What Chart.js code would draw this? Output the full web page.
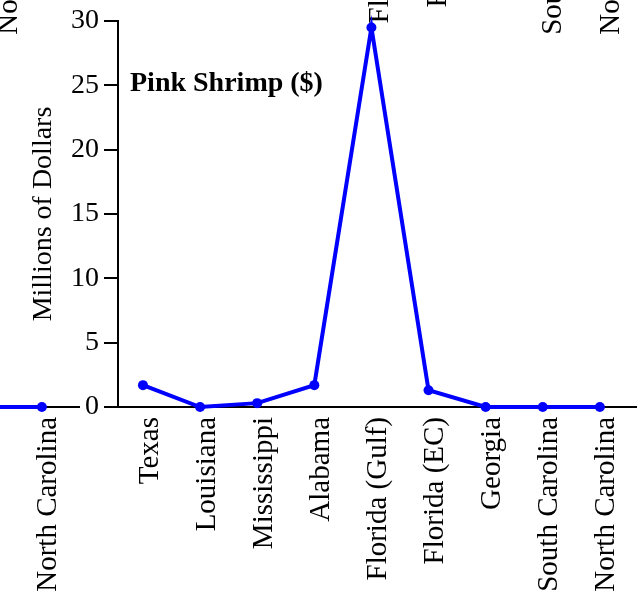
<!DOCTYPE html>
<html><head><meta charset="utf-8">
<script src="https://cdn.jsdelivr.net/npm/chart.js@4"></script>
<style>
html,body{margin:0;padding:0;background:#fff;}
#wrap{position:relative;width:637px;height:592px;overflow:hidden;background:#fff;}
#wrap canvas{position:absolute;}
</style></head><body>
<div id="wrap">
<canvas id="topLeftPanel" width="642" height="592" style="left:-602px;top:-557px"></canvas>
<canvas id="topPanel" width="642" height="592" style="left:0px;top:-557px"></canvas>
<canvas id="leftPanel" width="642" height="592" style="left:-558px;top:0px"></canvas>
<canvas id="mainPanel" width="642" height="592" style="left:0px;top:0px"></canvas>
</div>
<script>
const categories = ['Texas','Louisiana','Mississippi','Alabama','Florida (Gulf)','Florida (EC)','Georgia','South Carolina','North Carolina'];
const pinkShrimpValues = [1.7, 0, 0.3, 1.7, 29.5, 1.3, 0, 0, 0];
// neighbouring panel to the left: only its last two points are visible in the crop
const leftPanelValues = [null, null, null, null, null, null, null, 0, 0];
const yTicks = [0, 5, 10, 15, 20, 25, 30];
const panelTitle = 'Pink Shrimp ($)';
const yAxisTitle = 'Millions of Dollars';

const SERIF = "'Liberation Serif','Times New Roman',serif";
const BLUE = '#0000ff';

const panelTitlePlugin = {
  id: 'panelTitle',
  afterDraw(chart, args, opts) {
    if (!opts || !opts.text) return;
    const ctx = chart.ctx;
    ctx.save();
    ctx.font = 'bold 28px ' + SERIF;
    ctx.fillStyle = '#000';
    ctx.textBaseline = 'alphabetic';
    ctx.textAlign = 'left';
    ctx.fillText(opts.text, chart.chartArea.left + 12, 91);
    ctx.restore();
  }
};

function makePanel(id, values, title) {
  const datasets = values ? [{
    data: values.map((v, i) => ({x: i, y: v})),
    borderColor: BLUE,
    backgroundColor: BLUE,
    borderWidth: 4,
    pointRadius: 5,
    pointBackgroundColor: BLUE,
    pointBorderWidth: 0,
    tension: 0,
    spanGaps: false,
    clip: false
  }] : [];
  return new Chart(document.getElementById(id), {
    type: 'line',
    data: {datasets},
    plugins: [panelTitlePlugin],
    options: {
      responsive: false,
      animation: false,
      devicePixelRatio: 1,
      layout: {padding: {top: 21, left: 0, right: 0, bottom: 0}},
      plugins: {
        legend: {display: false},
        tooltip: {enabled: false},
        panelTitle: {text: title || ''}
      },
      scales: {
        x: {
          type: 'linear',
          min: -0.437,
          max: 8.65,
          afterBuildTicks: s => { s.ticks = categories.map((c, i) => ({value: i})); },
          afterFit: s => { s.height = 185; s.paddingLeft = 0; s.paddingRight = 0; },
          ticks: {
            autoSkip: false, minRotation: 90, maxRotation: 90,
            padding: 10, labelOffset: 7, color: '#000',
            font: {family: SERIF, size: 29},
            callback: v => categories[v]
          },
          grid: {drawOnChartArea: false, drawTicks: false},
          border: {display: true, color: '#000', width: 2}
        },
        y: {
          type: 'linear',
          min: 0,
          max: 30,
          afterBuildTicks: s => { s.ticks = yTicks.map(v => ({value: v})); },
          afterFit: s => { s.width = 118; s.paddingTop = 0; s.paddingBottom = 0; },
          ticks: {color: '#000', font: {family: SERIF, size: 28}, padding: 5},
          grid: {drawOnChartArea: false, drawTicks: true, tickLength: 14, color: '#000', lineWidth: 2},
          border: {display: true, color: '#000', width: 2},
          title: {display: true, text: yAxisTitle, color: '#000', font: {family: SERIF, size: 28}, padding: {top: 27, bottom: 0}}
        }
      }
    }
  });
}

makePanel('topLeftPanel', null, '');
makePanel('topPanel', null, '');
makePanel('leftPanel', leftPanelValues, '');
makePanel('mainPanel', pinkShrimpValues, panelTitle);
</script>
</body></html>
